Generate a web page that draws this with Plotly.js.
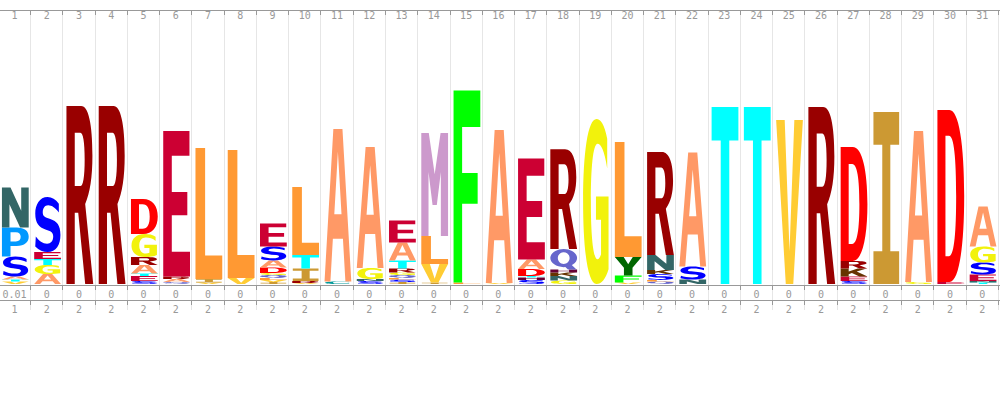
<!DOCTYPE html>
<html>
<head>
<meta charset="utf-8">
<script src="https://cdn.plot.ly/plotly-3.0.1.min.js"></script>
<style>html,body{margin:0;padding:0;background:#fff;}#chart{width:1000px;height:400px;}</style>
</head>
<body>
<div id="chart"></div>
<script>
// ---- data ----
const positions = [1,2,3,4,5,6,7,8,9,10,11,12,13,14,15,16,17,18,19,20,21,22,23,24,25,26,27,28,29,30,31];
const topLabels = ['1','2','3','4','5','6','7','8','9','10','11','12','13','14','15','16','17','18','19','20','21','22','23','24','25','26','27','28','29','30','31'];
const occupancyLabels = ['0.01','0','0','0','0','0','0','0','0','0','0','0','0','0','0','0','0','0','0','0','0','0','0','0','0','0','0','0','0','0','0'];
const insertLabels = ['1','2','2','2','2','2','2','2','2','2','2','2','2','2','2','2','2','2','2','2','2','2','2','2','2','2','2','2','2','2','2'];
// letters of each column, bottom to top
const stackLetters = ['VTASPN','AGTES','R','R','SETARGD','QARE','VIL','VL','IVLQGDASE','VRITL','CA','SNGA','ISLQGRTAE','IVLM','LF','VA','SHTDAE','GNKHQR','G','VFYL','QLSKNR','NSA','T','T','V','R','SEKRD','I','GA','ED','TNESGA'];
// letter heights (bits), same order
const stackBits = [
  [0.040,0.032,0.047,0.316,0.459,0.633],
  [0.158,0.142,0.095,0.111,0.870],
  [2.816],
  [2.816],
  [0.047,0.079,0.040,0.134,0.127,0.364,0.554],
  [0.032,0.047,0.040,2.302],
  [0.024,0.055,2.073],
  [0.095,2.025],
  [0.032,0.032,0.032,0.047,0.032,0.087,0.111,0.222,0.364],
  [0.016,0.032,0.198,0.214,1.076],
  [0.040,2.413],
  [0.047,0.032,0.174,1.915],
  [0.032,0.040,0.024,0.047,0.040,0.063,0.127,0.285,0.348],
  [0.024,0.293,0.443,1.630],
  [0.024,3.038],
  [0.016,2.421],
  [0.063,0.040,0.024,0.111,0.150,1.598],
  [0.055,0.071,0.055,0.047,0.324,1.582],
  [2.611],
  [0.024,0.111,0.293,1.820],
  [0.040,0.024,0.095,0.063,0.237,1.630],
  [0.071,0.206,1.804],
  [2.801],
  [2.801],
  [2.595],
  [2.801],
  [0.047,0.071,0.127,0.119,1.804],
  [2.722],
  [0.032,2.389],
  [0.032,2.722],
  [0.024,0.024,0.103,0.190,0.253,0.633]
];

// ---- styles ----
const residueColors = {A:'#FF9966',C:'#009999',D:'#FF0000',E:'#CC0033',F:'#00FF00',G:'#F2F20C',H:'#660033',I:'#CC9933',K:'#663300',L:'#FF9933',M:'#CC99CC',N:'#336666',P:'#0099FF',Q:'#6666CC',R:'#990000',S:'#0000FF',T:'#00FFFF',V:'#FFCC33',W:'#66CC66',Y:'#006600'};

function ellipse(cx,cy,rx,ry,cw){
  const k=0.5523, f=v=>v.toFixed(4);
  const p=(x,y)=>f(x)+','+f(y);
  if(!cw){
    return 'M'+p(cx+rx,cy)+
      ' C'+p(cx+rx,cy+k*ry)+' '+p(cx+k*rx,cy+ry)+' '+p(cx,cy+ry)+
      ' C'+p(cx-k*rx,cy+ry)+' '+p(cx-rx,cy+k*ry)+' '+p(cx-rx,cy)+
      ' C'+p(cx-rx,cy-k*ry)+' '+p(cx-k*rx,cy-ry)+' '+p(cx,cy-ry)+
      ' C'+p(cx+k*rx,cy-ry)+' '+p(cx+rx,cy-k*ry)+' '+p(cx+rx,cy)+' Z';
  }
  return 'M'+p(cx+rx,cy)+
    ' C'+p(cx+rx,cy-k*ry)+' '+p(cx+k*rx,cy-ry)+' '+p(cx,cy-ry)+
    ' C'+p(cx-k*rx,cy-ry)+' '+p(cx-rx,cy-k*ry)+' '+p(cx-rx,cy)+
    ' C'+p(cx-rx,cy+k*ry)+' '+p(cx-k*rx,cy+ry)+' '+p(cx,cy+ry)+
    ' C'+p(cx+k*rx,cy+ry)+' '+p(cx+rx,cy+k*ry)+' '+p(cx+rx,cy)+' Z';
}

// glyph outlines in a unit box (u to the right, v upward)
const GLYPHS = {
  A:['M0,0 L0.22,0 L0.312,0.28 L0.688,0.28 L0.78,0 L1,0 L0.67,1 L0.33,1 Z M0.365,0.44 L0.5,0.85 L0.635,0.44 Z'],
  C:['M0.92,0.88 C0.82,0.97 0.66,1 0.52,1 C0.2,1 0.02,0.8 0.02,0.5 C0.02,0.2 0.2,0 0.52,0 C0.66,0 0.82,0.03 0.92,0.12 L0.92,0.3 C0.82,0.19 0.68,0.15 0.56,0.15 C0.39,0.15 0.31,0.3 0.31,0.5 C0.31,0.7 0.39,0.85 0.56,0.85 C0.68,0.85 0.82,0.81 0.92,0.7 Z'],
  D:['M0,0 L0.45,0 C0.8,0 1,0.2 1,0.5 C1,0.8 0.8,1 0.45,1 L0,1 Z M0.3,0.15 L0.3,0.85 L0.43,0.85 C0.62,0.85 0.7,0.72 0.7,0.5 C0.7,0.28 0.62,0.15 0.43,0.15 Z'],
  E:['M0,0 L1,0 L1,0.17 L0.32,0.17 L0.32,0.42 L0.9,0.42 L0.9,0.58 L0.32,0.58 L0.32,0.83 L0.98,0.83 L0.98,1 L0,1 Z'],
  F:['M0,0 L0.32,0 L0.32,0.41 L0.9,0.41 L0.9,0.57 L0.32,0.57 L0.32,0.81 L1,0.81 L1,1 L0,1 Z'],
  G:['M0.92,0.88 C0.82,0.97 0.66,1 0.52,1 C0.2,1 0.02,0.8 0.02,0.5 C0.02,0.2 0.2,0 0.52,0 C0.7,0 0.86,0.03 0.97,0.09 L0.97,0.53 L0.5,0.53 L0.5,0.39 L0.69,0.39 L0.69,0.18 C0.65,0.16 0.6,0.15 0.56,0.15 C0.39,0.15 0.31,0.3 0.31,0.5 C0.31,0.7 0.39,0.85 0.56,0.85 C0.68,0.85 0.82,0.81 0.92,0.7 Z'],
  H:['M0,0 L0.3,0 L0.3,0.42 L0.7,0.42 L0.7,0 L1,0 L1,1 L0.7,1 L0.7,0.58 L0.3,0.58 L0.3,1 L0,1 Z'],
  I:['M0.02,0 L0.98,0 L0.98,0.19 L0.65,0.19 L0.65,0.81 L0.98,0.81 L0.98,1 L0.02,1 L0.02,0.81 L0.35,0.81 L0.35,0.19 L0.02,0.19 Z'],
  K:['M0,0 L0.3,0 L0.3,0.3 L0.42,0.44 L0.7,0 L1,0 L0.6,0.62 L0.97,1 L0.64,1 L0.3,0.62 L0.3,1 L0,1 Z'],
  L:['M0,0 L1,0 L1,0.18 L0.36,0.18 L0.36,1 L0,1 Z'],
  M:['M0,0 L0.27,0 L0.27,0.62 L0.42,0.3 L0.58,0.3 L0.73,0.62 L0.73,0 L1,0 L1,1 L0.72,1 L0.5,0.6 L0.28,1 L0,1 Z'],
  N:['M0,0 L0.28,0 L0.28,0.58 L0.68,0 L1,0 L1,1 L0.72,1 L0.72,0.42 L0.32,1 L0,1 Z'],
  P:['M0,0 L0.32,0 L0.32,0.36 L0.55,0.36 C0.85,0.36 1,0.5 1,0.68 C1,0.88 0.85,1 0.55,1 L0,1 Z M0.32,0.52 L0.32,0.84 L0.52,0.84 C0.64,0.84 0.7,0.78 0.7,0.68 C0.7,0.58 0.64,0.52 0.52,0.52 Z'],
  Q:[ellipse(0.5,0.56,0.5,0.44,false)+' '+ellipse(0.5,0.56,0.22,0.29,true), 'M0.5,0.2 L0.66,0 L0.98,0 L0.78,0.25 Z'],
  R:['M0,0 L0.31,0 L0.31,0.4 L0.44,0.4 L0.7,0 L1,0 L0.7,0.45 C0.88,0.51 0.97,0.6 0.97,0.72 C0.97,0.9 0.82,1 0.55,1 L0,1 Z M0.31,0.55 L0.31,0.85 L0.52,0.85 C0.62,0.85 0.68,0.8 0.68,0.7 C0.68,0.6 0.62,0.55 0.52,0.55 Z'],
  S:['M0.92,0.88 C0.8,0.96 0.66,1 0.5,1 C0.2,1 0.04,0.86 0.04,0.7 C0.04,0.52 0.18,0.45 0.42,0.41 L0.6,0.38 C0.68,0.36 0.71,0.33 0.71,0.28 C0.71,0.2 0.62,0.15 0.48,0.15 C0.32,0.15 0.18,0.2 0.06,0.28 L0.04,0.1 C0.18,0.03 0.34,0 0.5,0 C0.82,0 0.98,0.13 0.98,0.31 C0.98,0.49 0.85,0.56 0.6,0.6 L0.44,0.63 C0.35,0.65 0.32,0.67 0.32,0.72 C0.32,0.8 0.4,0.85 0.52,0.85 C0.66,0.85 0.8,0.8 0.92,0.72 Z'],
  T:['M0.34,0 L0.66,0 L0.66,0.81 L1,0.81 L1,1 L0,1 L0,0.81 L0.34,0.81 Z'],
  V:['M0,1 L0.32,1 L0.5,0.2 L0.68,1 L1,1 L0.64,0 L0.36,0 Z'],
  W:['M0,1 L0.2,1 L0.28,0.3 L0.42,0.8 L0.58,0.8 L0.72,0.3 L0.8,1 L1,1 L0.88,0 L0.64,0 L0.5,0.5 L0.36,0 L0.12,0 Z'],
  Y:['M0,1 L0.33,1 L0.5,0.6 L0.67,1 L1,1 L0.66,0.42 L0.66,0 L0.34,0 L0.34,0.42 Z']
};

function placeGlyph(d, x0, w, y0, h){
  return d.replace(/(\d*\.?\d+),(\d*\.?\d+)/g, (m,a,b)=>
    (x0 + parseFloat(a)*w).toFixed(4) + ',' + (y0 + parseFloat(b)*h).toFixed(5));
}

const shapes = [];
positions.forEach((pos, ci) => {
  const letters = stackLetters[ci];
  const bits = stackBits[ci];
  const x0 = pos - 0.5 + 0.11;
  const w = 0.83;
  let base = 0;
  for (let k = 0; k < letters.length; k++) {
    const ch = letters[k];
    const h = bits[k];
    GLYPHS[ch].forEach(d => {
      shapes.push({
        type: 'path', xref: 'x', yref: 'y',
        path: placeGlyph(d, x0, w, base, h),
        fillcolor: residueColors[ch], fillrule: 'nonzero',
        line: {width: 0}, layer: 'above'
      });
    });
    base += h;
  }
});

const axisFont = {family: 'DejaVu Sans Mono, monospace', size: 10, color: '#999'};
const xr = [0.55, 31.55];

const traces = [
  {x: [positions[0]], y: [0], xaxis: 'x', yaxis: 'y', mode: 'markers', marker: {opacity: 0}, hoverinfo: 'skip', showlegend: false},
  {x: [positions[0]], y: [0], xaxis: 'x2', yaxis: 'y', mode: 'markers', marker: {opacity: 0}, hoverinfo: 'skip', showlegend: false},
  {x: [positions[0]], y: [0], xaxis: 'x3', yaxis: 'y', mode: 'markers', marker: {opacity: 0}, hoverinfo: 'skip', showlegend: false}
];

const layout = {
  width: 1000, height: 400,
  margin: {l: 0, r: 0, t: 0, b: 0, pad: 0},
  paper_bgcolor: '#ffffff', plot_bgcolor: '#ffffff',
  showlegend: false,
  xaxis: {
    side: 'top', anchor: 'y', range: xr, fixedrange: true,
    tickmode: 'array', tickvals: positions, ticktext: topLabels,
    ticks: '', ticklabelposition: 'inside', tickfont: axisFont,
    showline: true, linecolor: '#999', linewidth: 1,
    showgrid: false, zeroline: false,
    minor: {tickmode: 'linear', tick0: 0.5, dtick: 1, ticks: 'inside', ticklen: 4, tickcolor: '#999', tickwidth: 1, showgrid: true, gridcolor: '#e6e6e6', gridwidth: 1}
  },
  xaxis2: {
    overlaying: 'x', anchor: 'free', position: 0.2875, side: 'bottom', range: xr, fixedrange: true,
    tickmode: 'array', tickvals: positions, ticktext: occupancyLabels,
    ticks: '', tickfont: axisFont,
    showline: true, linecolor: '#999', linewidth: 1,
    showgrid: false, zeroline: false,
    minor: {tickmode: 'linear', tick0: 0.5, dtick: 1, ticks: 'outside', ticklen: 4, tickcolor: '#999', tickwidth: 1, showgrid: false}
  },
  xaxis3: {
    overlaying: 'x', anchor: 'free', position: 0.25, side: 'bottom', range: xr, fixedrange: true,
    tickmode: 'array', tickvals: positions, ticktext: insertLabels,
    ticks: '', tickfont: axisFont,
    showline: true, linecolor: '#999', linewidth: 1,
    showgrid: false, zeroline: false,
    minor: {tickmode: 'linear', tick0: 0.5, dtick: 1, ticks: 'outside', ticklen: 4, tickcolor: '#999', tickwidth: 1, showgrid: false}
  },
  yaxis: {domain: [0.225, 0.9725], range: [-0.4114, 4.3196], visible: false, fixedrange: true, showgrid: false, zeroline: false},
  shapes: shapes
};

Plotly.newPlot('chart', traces, layout, {staticPlot: true, displayModeBar: false});
</script>
</body>
</html>
